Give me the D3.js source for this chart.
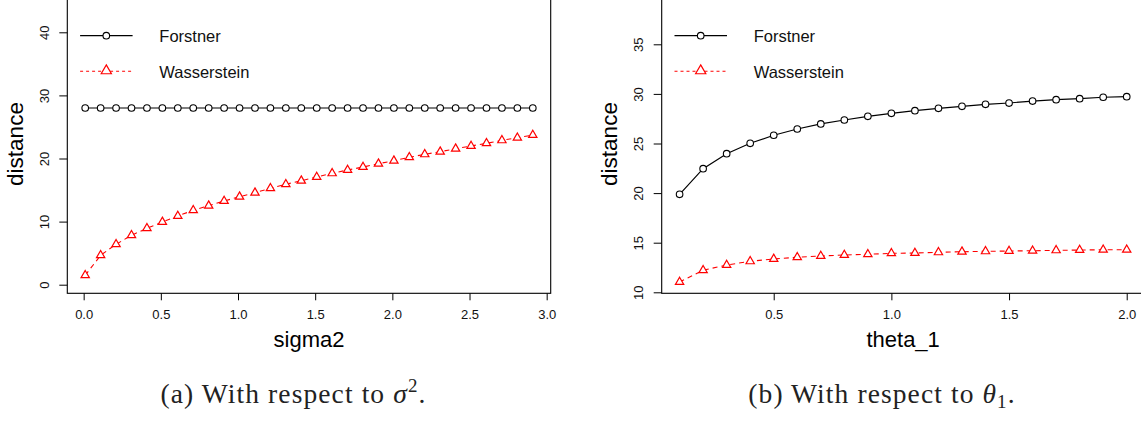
<!DOCTYPE html>
<html><head><meta charset="utf-8">
<script src="https://cdn.jsdelivr.net/npm/d3@7"></script>
<style>body{margin:0;background:#fff} svg{display:block}</style>
</head><body>
<svg id="chart" width="1141" height="421"></svg>
<script>
// ---- data ----
const sigma2 = [0.01,0.11,0.21,0.31,0.41,0.51,0.61,0.71,0.81,0.91,1.01,1.11,1.21,1.31,1.41,1.51,1.61,1.71,1.81,1.91,2.01,2.11,2.21,2.31,2.41,2.51,2.61,2.71,2.81,2.91];
const forstnerSigma = [28,28,28,28,28,28,28,28,28,28,28,28,28,28,28,28,28,28,28,28,28,28,28,28,28,28,28,28,28,28];
const wassersteinSigma = [1.49,4.66,6.40,7.83,8.94,9.94,10.89,11.79,12.52,13.26,13.95,14.58,15.28,15.91,16.48,17.07,17.65,18.18,18.65,19.18,19.65,20.19,20.66,21.08,21.55,21.98,22.41,22.88,23.29,23.72];
const theta1 = [0.1,0.2,0.3,0.4,0.5,0.6,0.7,0.8,0.9,1.0,1.1,1.2,1.3,1.4,1.5,1.6,1.7,1.8,1.9,2.0];
const forstnerTheta = [19.88,22.46,23.97,25.02,25.83,26.46,26.97,27.37,27.74,28.04,28.31,28.55,28.75,28.95,29.08,29.28,29.42,29.52,29.66,29.72];
const wassersteinTheta = [11.04,12.22,12.75,13.12,13.36,13.53,13.66,13.76,13.83,13.93,13.96,14.03,14.09,14.13,14.16,14.19,14.23,14.26,14.29,14.29];
const sigmaTicksX = [0,0.5,1.0,1.5,2.0,2.5,3.0];
const sigmaTicksY = [0,10,20,30,40];
const thetaTicksX = [0.5,1.0,1.5,2.0];
const thetaTicksY = [10,15,20,25,30,35];
const seriesNames = ["Forstner","Wasserstein"];
const xTitles = ["sigma2","theta_1"];
const yTitle = "distance";

const svg = d3.select("#chart");
const sansFont = "'Liberation Sans', Arial, Helvetica, sans-serif";

function panel(cfg){
  const g = svg.append("g");
  const x = d3.scaleLinear().domain(cfg.xDomain).range(cfg.xRange);
  const y = d3.scaleLinear().domain(cfg.yDomain).range(cfg.yRange);
  const left = cfg.xRange[0], right = cfg.xRange[1];
  const bottom = cfg.boxBottom, top = -3;

  // box
  g.append("rect").attr("x", left).attr("y", top)
    .attr("width", right-left).attr("height", bottom-top)
    .attr("fill","none").attr("stroke","#000").attr("stroke-width",1.1);

  // x axis
  const xa = d3.axisBottom(x).tickValues(cfg.xTicks).tickFormat(d3.format(".1f"))
    .tickSizeInner(7).tickSizeOuter(0);
  const gx = g.append("g").attr("transform",`translate(0,${bottom})`).call(xa);
  gx.select(".domain").remove();
  gx.selectAll(".tick line").attr("stroke","#000").attr("stroke-width",1);
  gx.selectAll(".tick text").attr("y",25.7).attr("dy",0)
    .attr("font-family",sansFont).attr("font-size",13).attr("fill","#111");

  // y axis
  const ya = d3.axisLeft(y).tickValues(cfg.yTicks).tickFormat(d3.format("d"))
    .tickSizeInner(8).tickSizeOuter(0);
  const gy = g.append("g").attr("transform",`translate(${left},0)`).call(ya);
  gy.select(".domain").remove();
  gy.selectAll(".tick line").attr("stroke","#000").attr("stroke-width",1);
  gy.selectAll(".tick text").attr("x",null).attr("dy",0)
    .attr("transform","translate(-18.5,0) rotate(-90)")
    .attr("text-anchor","middle")
    .attr("font-family",sansFont).attr("font-size",13).attr("fill","#111");

  // titles
  g.append("text").attr("x",(left+right)/2).attr("y",347)
    .attr("text-anchor","middle").attr("font-family",sansFont).attr("font-size",22)
    .attr("fill","#000").text(cfg.xTitle);
  g.append("text").attr("transform",`translate(${left-44.3},144) rotate(-90)`)
    .attr("text-anchor","middle").attr("font-family",sansFont).attr("font-size",22.5)
    .attr("fill","#000").text(yTitle);

  const line = d3.line().x(d=>x(d[0])).y(d=>y(d[1]));
  const fData = cfg.xs.map((v,i)=>[v,cfg.f[i]]);
  const wData = cfg.xs.map((v,i)=>[v,cfg.w[i]]);

  g.append("path").datum(wData).attr("d",line).attr("fill","none")
    .attr("stroke","#ff0000").attr("stroke-width",1.1).attr("stroke-dasharray","5,4");
  g.append("path").datum(fData).attr("d",line).attr("fill","none")
    .attr("stroke","#000").attr("stroke-width",1.2);

  const tri = d3.symbol().type(d3.symbolTriangle).size(30);
  g.selectAll(".tri").data(wData).join("path").attr("class","tri")
    .attr("transform",d=>`translate(${x(d[0])},${y(d[1])})`)
    .attr("d",tri).attr("fill","#fff").attr("stroke","#ff0000").attr("stroke-width",1.2);
  g.selectAll(".circ").data(fData).join("circle").attr("class","circ")
    .attr("cx",d=>x(d[0])).attr("cy",d=>y(d[1])).attr("r",3.3)
    .attr("fill","#fff").attr("stroke","#000").attr("stroke-width",1.1);

  // legend
  const lx0 = left+12.8, lx1 = left+65.3, lm = left+39, tx = left+92;
  const rows = [35.7, 71.3];
  g.append("line").attr("x1",lx0).attr("x2",lx1).attr("y1",rows[0]).attr("y2",rows[0])
    .attr("stroke","#000").attr("stroke-width",1.2);
  g.append("circle").attr("cx",lm).attr("cy",rows[0]).attr("r",3.3)
    .attr("fill","#fff").attr("stroke","#000").attr("stroke-width",1.1);
  g.append("line").attr("x1",lx0).attr("x2",lx1).attr("y1",rows[1]).attr("y2",rows[1])
    .attr("stroke","#ff0000").attr("stroke-width",1.1).attr("stroke-dasharray","3,3");
  g.append("path").attr("transform",`translate(${lm},${rows[1]-0.5})`)
    .attr("d",d3.symbol().type(d3.symbolTriangle).size(45)).attr("fill","#fff")
    .attr("stroke","#ff0000").attr("stroke-width",1.2);
  seriesNames.forEach((n,i)=>{
    g.append("text").attr("x",tx).attr("y",rows[i]+6.5)
      .attr("font-family",sansFont).attr("font-size",16.5).attr("fill","#111").text(n);
  });

  // caption
  const cap = g.append("text").attr("x",cfg.capX).attr("y",403).attr("text-anchor","middle")
    .attr("font-family","'Liberation Serif','Times New Roman',serif").attr("font-size",27.5)
    .attr("letter-spacing",1.1).attr("fill","#222");
  cap.append("tspan").text(cfg.capPre);
  cap.append("tspan").attr("font-style","italic").text(cfg.capSym);
  cap.append("tspan").attr("font-size",19).attr("dy",cfg.capScriptDy).text(cfg.capScript);
  cap.append("tspan").attr("dy",-cfg.capScriptDy).text(".");
}

panel({
  xDomain:[-0.106,3.026], xRange:[67.3,550.7],
  yDomain:[0,40], yRange:[284.7,32.3], boxBottom:293.3,
  xTicks:sigmaTicksX, yTicks:sigmaTicksY,
  xs:sigma2, f:forstnerSigma, w:wassersteinSigma, xTitle:xTitles[0],
  capX:293.5, capPre:"(a) With respect to ", capSym:"σ", capScript:"2", capScriptDy:-11
});
panel({
  xDomain:[0.024,2.076], xRange:[661.7,1144.6],
  yDomain:[10,35], yRange:[292.3,44.3], boxBottom:293.3,
  xTicks:thetaTicksX, yTicks:thetaTicksY,
  xs:theta1, f:forstnerTheta, w:wassersteinTheta, xTitle:xTitles[1],
  capX:882, capPre:"(b) With respect to ", capSym:"θ", capScript:"1", capScriptDy:5
});
</script>
</body></html>
